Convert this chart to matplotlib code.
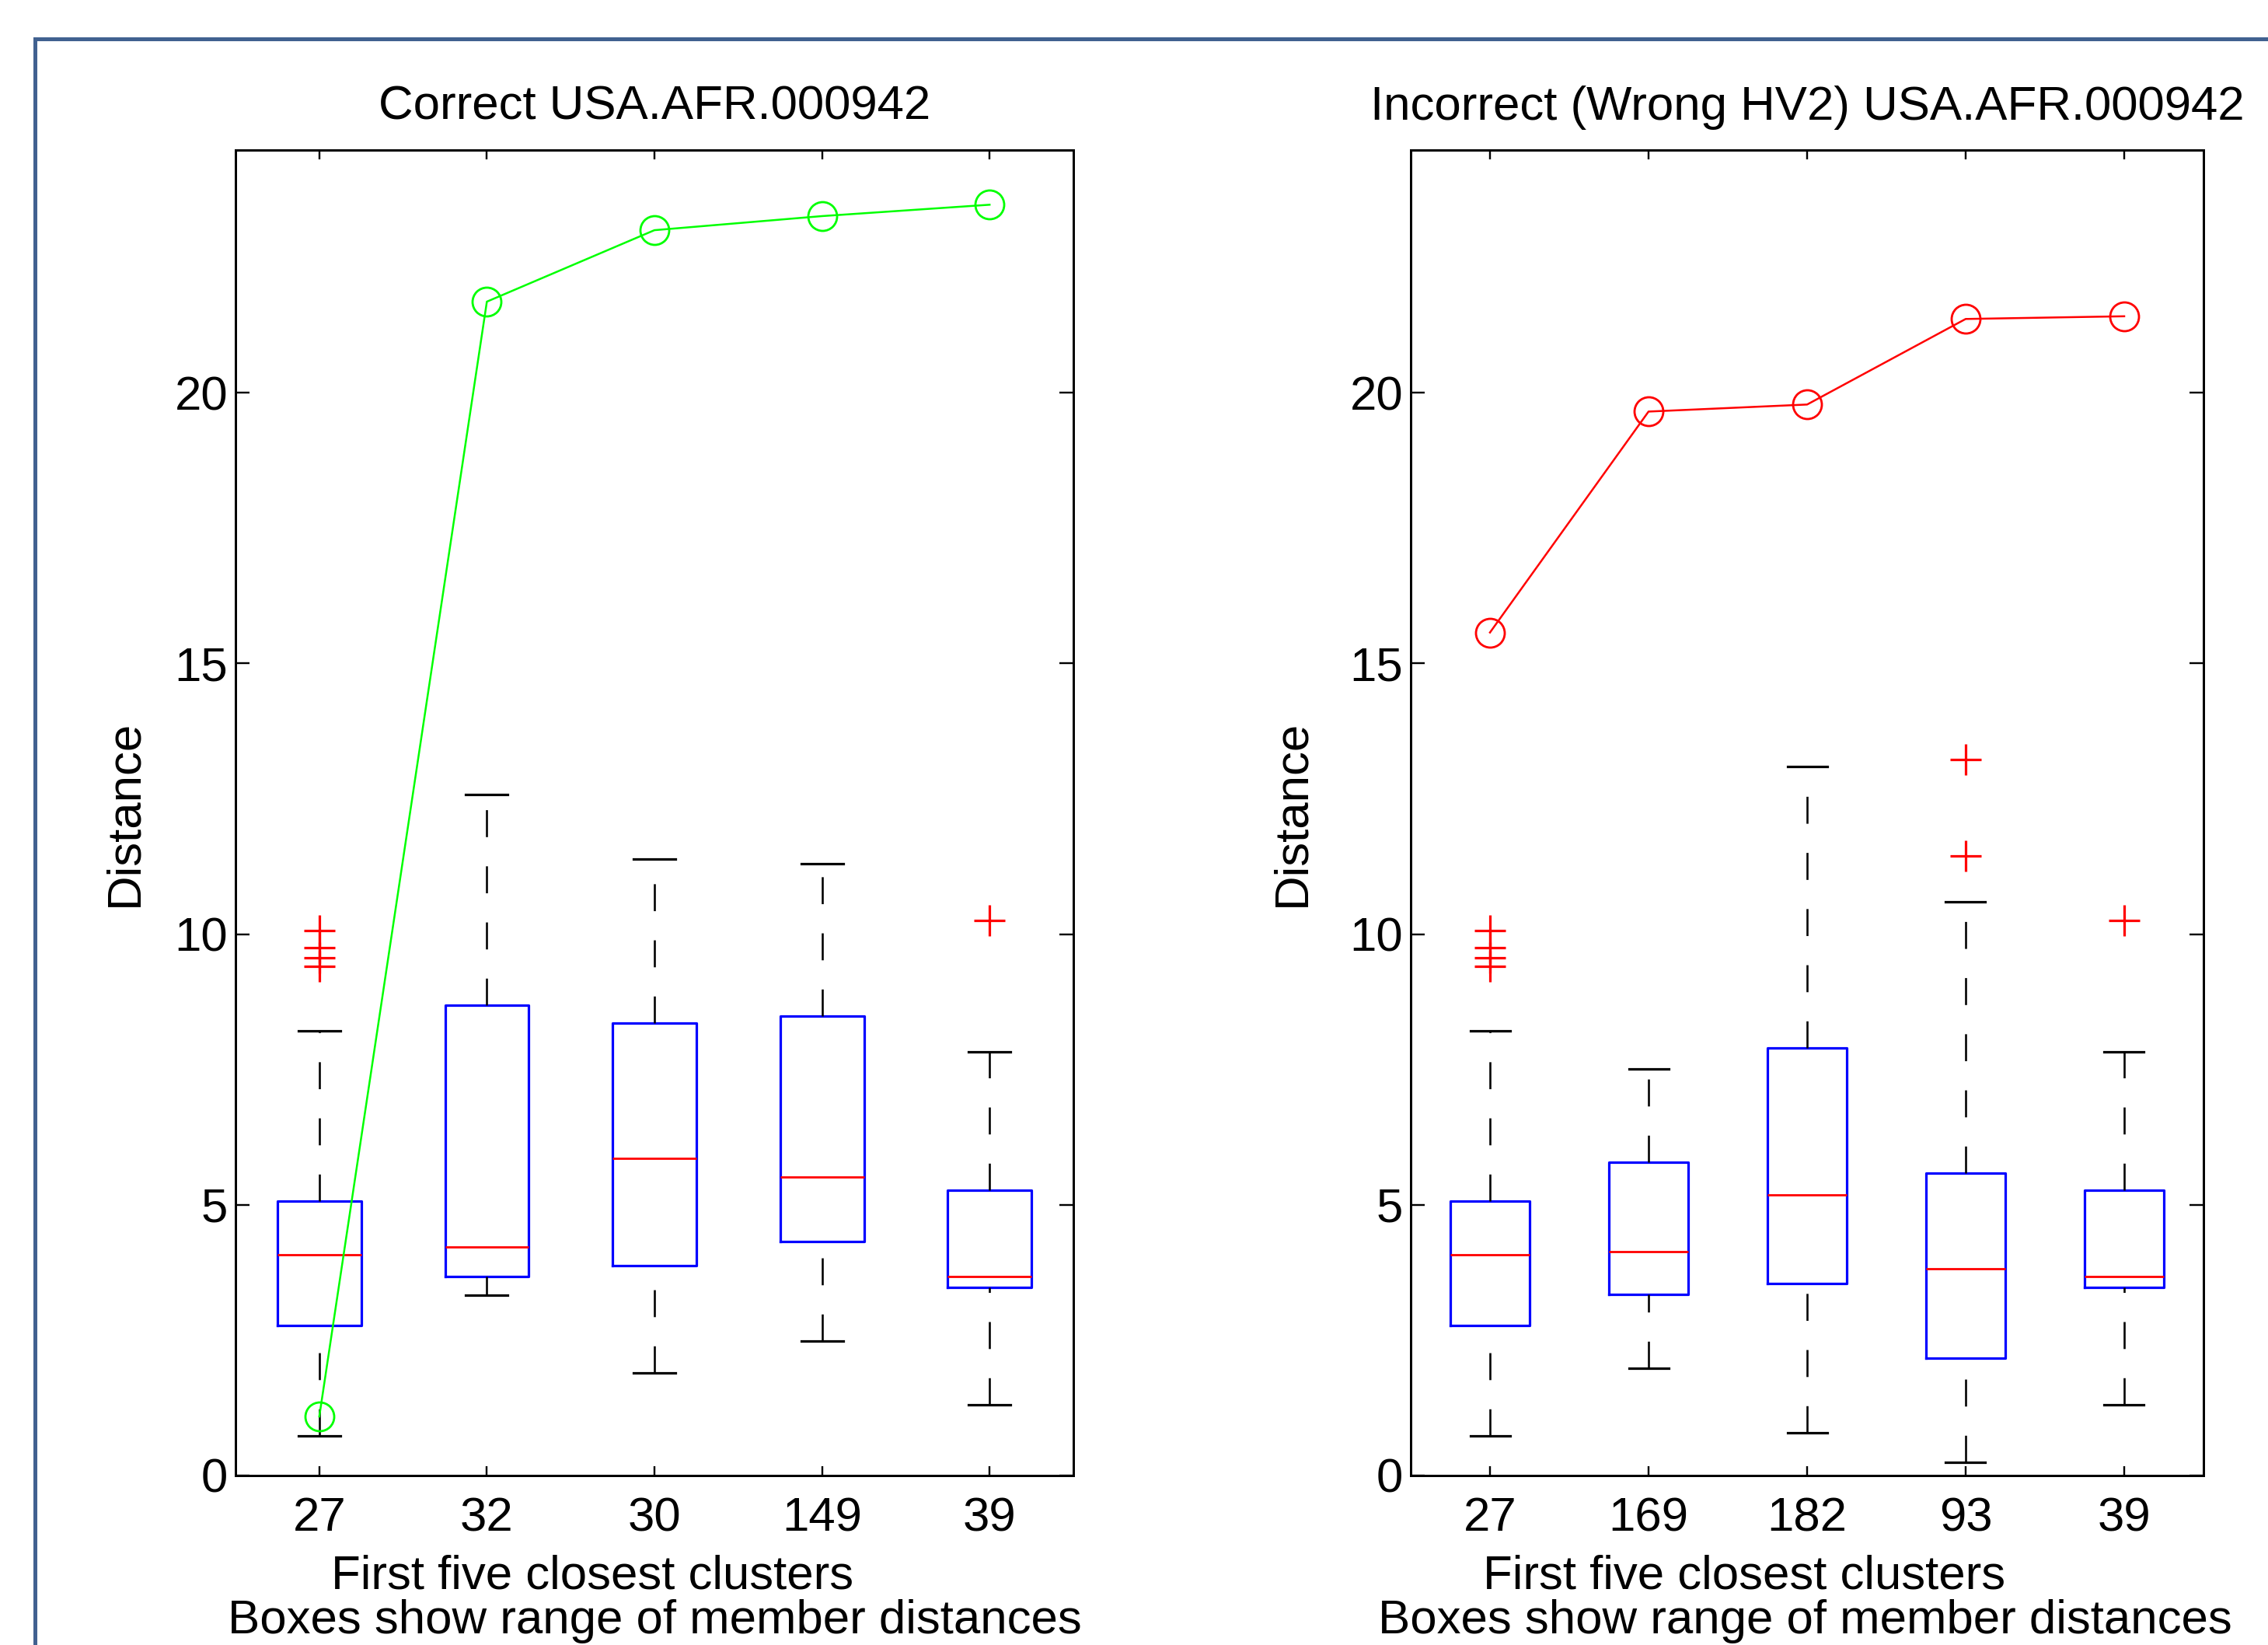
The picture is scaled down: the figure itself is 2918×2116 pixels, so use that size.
import matplotlib
matplotlib.use('Agg')
import matplotlib.pyplot as plt
from matplotlib.patches import Rectangle

plt.rcParams['font.family'] = ['Liberation Sans', 'DejaVu Sans']
plt.rcParams['lines.scale_dashes'] = False

# figure size in pixels
W, H = 2918, 2116
DPI = 100
FS = 44.5


def pt(px):
    return px * 72.0 / DPI


# left panel: correct assignment
left_title = 'Correct USA.AFR.000942'
left_labels = ['27', '32', '30', '149', '39']
left_med = [4.08, 4.22, 5.86, 5.52, 3.68]
left_q1 = [2.77, 3.68, 3.87, 4.32, 3.48]
left_q3 = [5.07, 8.69, 8.35, 8.49, 5.27]
left_lo = [0.73, 3.33, 1.90, 2.49, 1.30]
left_hi = [8.21, 12.58, 11.39, 11.30, 7.82]
left_out = [[10.06, 9.75, 9.56, 9.40], [], [], [], [10.25]]
left_dist = [1.09, 21.68, 23.00, 23.26, 23.47]

# right panel: wrong HV2
right_title = 'Incorrect (Wrong HV2) USA.AFR.000942'
right_labels = ['27', '169', '182', '93', '39']
right_med = [4.08, 4.13, 5.18, 3.82, 3.68]
right_q1 = [2.77, 3.35, 3.54, 2.17, 3.48]
right_q3 = [5.07, 5.79, 7.90, 5.58, 5.27]
right_lo = [0.73, 1.98, 0.79, 0.25, 1.30]
right_hi = [8.21, 7.51, 13.10, 10.60, 7.82]
right_out = [[10.06, 9.75, 9.56, 9.40], [], [], [13.23, 11.44], [10.25]]
right_dist = [15.57, 19.65, 19.78, 21.36, 21.41]

xlabel1 = 'First five closest clusters'
xlabel2 = 'Boxes show range of member distances'

fig = plt.figure(figsize=(W / DPI, H / DPI), dpi=DPI)


def add_ax(x0, x1, y0=193, y1=1898):
    return fig.add_axes([x0 / W, 1 - y1 / H, (x1 - x0) / W, (y1 - y0) / H])


def panel(ax, title, labels, med, q1, q3, lo, hi, out, dist, color, ylab_x):
    pos = list(range(1, len(labels) + 1))
    stats = []
    for m, a, b, l, h, f in zip(med, q1, q3, lo, hi, out):
        stats.append(dict(med=m, q1=a, q3=b, whislo=l, whishi=h, fliers=f))
    parts = ax.bxp(stats, positions=pos, widths=0.5, showfliers=True,
                   boxprops=dict(color='#0000ff', lw=pt(3.2)),
                   medianprops=dict(color='#ff0000', lw=pt(2.8)),
                   whiskerprops=dict(color='black', lw=pt(2.6), ls=(0, (25, 27))),
                   capprops=dict(color='black', lw=pt(3.2)),
                   flierprops=dict(marker='+', markeredgecolor='#ff0000',
                                   markersize=pt(40), markeredgewidth=pt(3.2),
                                   linestyle='none'))
    # lower whiskers run from the cap up to the box
    for w in parts['whiskers'][0::2]:
        w.set_ydata(list(w.get_ydata())[::-1])

    ax.plot(pos, dist, color=color, lw=pt(2.5), marker='o', mfc='none',
            mec=color, ms=pt(37), mew=pt(2.8), zorder=4)

    ax.set_xlim(0.5, 5.5)
    ax.set_ylim(0, 24.48)
    ax.set_yticks([0, 5, 10, 15, 20])
    ax.set_xticks(pos)
    ax.set_xticklabels(labels)
    for s in ax.spines.values():
        s.set_linewidth(pt(3))
    ax.tick_params(axis='both', direction='in', top=True, right=True,
                   labelsize=FS, width=pt(2.4))
    ax.tick_params(axis='x', length=pt(12), pad=pt(27))
    ax.tick_params(axis='y', length=pt(18), pad=pt(10))
    ax.set_title(title, fontsize=FS, pad=pt(39))
    ax.set_ylabel('Distance', fontsize=FS)
    ax.yaxis.set_label_coords(ylab_x, 0.5)


ax1 = add_ax(303, 1381)
ax2 = add_ax(1815, 2835)
panel(ax1, left_title, left_labels, left_med, left_q1, left_q3, left_lo,
      left_hi, left_out, left_dist, '#00ff00', (189 - 303) / 1078)
panel(ax2, right_title, right_labels, right_med, right_q1, right_q3, right_lo,
      right_hi, right_out, right_dist, '#ff0000', (1691 - 1815) / 1020)

# two-line x labels, placed as in the screenshot
for cx1, cx2 in [(762, 842), (2244, 2322)]:
    fig.text(cx1 / W, 1 - 2043 / H, xlabel1, fontsize=FS, ha='center', va='baseline')
    fig.text(cx2 / W, 1 - 2101 / H, xlabel2, fontsize=FS, ha='center', va='baseline')

# window frame
fig.add_artist(Rectangle((45 / W, -0.5), 2, 1.5 - 50 / H, transform=fig.transFigure,
                         fill=False, ec='#416190', lw=pt(5)))

fig.savefig('out.png', dpi=DPI)
